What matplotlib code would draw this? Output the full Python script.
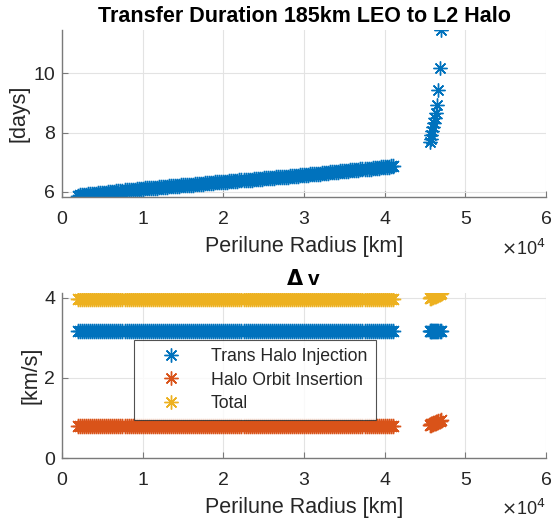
import matplotlib
matplotlib.use("Agg")
import matplotlib.pyplot as plt

plt.rcParams['font.family'] = ['Liberation Sans', 'DejaVu Sans']

# ---------------- data ----------------
radius_main = [
    2000, 2250, 2500, 2750, 3000, 3250, 3500, 3750, 4000, 4250,
    4500, 4750, 5000, 5250, 5500, 5750, 6000, 6250, 6500, 6750,
    7000, 7250, 7500, 7750, 8000, 8250, 8500, 8750, 9000, 9250,
    9500, 9750, 10000, 10250, 10500, 10750, 11000, 11250, 11500, 11750,
    12000, 12250, 12500, 12750, 13000, 13250, 13500, 13750, 14000, 14250,
    14500, 14750, 15000, 15250, 15500, 15750, 16000, 16250, 16500, 16750,
    17000, 17250, 17500, 17750, 18000, 18250, 18500, 18750, 19000, 19250,
    19500, 19750, 20000, 20250, 20500, 20750, 21000, 21250, 21500, 21750,
    22000, 22250, 22500, 22750, 23000, 23250, 23500, 23750, 24000, 24250,
    24500, 24750, 25000, 25250, 25500, 25750, 26000, 26250, 26500, 26750,
    27000, 27250, 27500, 27750, 28000, 28250, 28500, 28750, 29000, 29250,
    29500, 29750, 30000, 30250, 30500, 30750, 31000, 31250, 31500, 31750,
    32000, 32250, 32500, 32750, 33000, 33250, 33500, 33750, 34000, 34250,
    34500, 34750, 35000, 35250, 35500, 35750, 36000, 36250, 36500, 36750,
    37000, 37250, 37500, 37750, 38000, 38250, 38500, 38750, 39000, 39250,
    39500, 39750, 40000, 40250, 40500, 40750, 41000]
days_main = [
    5.88, 5.89, 5.89, 5.90, 5.91, 5.92, 5.92, 5.93, 5.94, 5.94,
    5.95, 5.96, 5.97, 5.97, 5.98, 5.99, 5.99, 6.00, 6.01, 6.02,
    6.02, 6.03, 6.04, 6.05, 6.05, 6.06, 6.07, 6.07, 6.08, 6.09,
    6.10, 6.10, 6.11, 6.12, 6.12, 6.13, 6.13, 6.14, 6.14, 6.15,
    6.16, 6.16, 6.17, 6.17, 6.18, 6.19, 6.19, 6.20, 6.20, 6.21,
    6.21, 6.22, 6.23, 6.23, 6.24, 6.24, 6.25, 6.25, 6.26, 6.27,
    6.27, 6.28, 6.28, 6.29, 6.29, 6.30, 6.31, 6.31, 6.32, 6.32,
    6.33, 6.33, 6.34, 6.35, 6.35, 6.36, 6.36, 6.37, 6.37, 6.38,
    6.39, 6.39, 6.40, 6.40, 6.41, 6.42, 6.42, 6.43, 6.43, 6.44,
    6.44, 6.45, 6.46, 6.46, 6.47, 6.47, 6.48, 6.48, 6.49, 6.50,
    6.50, 6.51, 6.51, 6.52, 6.52, 6.53, 6.54, 6.54, 6.55, 6.55,
    6.56, 6.56, 6.57, 6.58, 6.58, 6.59, 6.60, 6.60, 6.61, 6.62,
    6.62, 6.63, 6.64, 6.64, 6.65, 6.66, 6.66, 6.67, 6.68, 6.68,
    6.69, 6.70, 6.71, 6.71, 6.72, 6.73, 6.73, 6.74, 6.75, 6.75,
    6.76, 6.77, 6.77, 6.78, 6.79, 6.79, 6.80, 6.81, 6.81, 6.82,
    6.83, 6.83, 6.84, 6.85, 6.85, 6.86, 6.87]
thi_main = [3.17] * len(radius_main)
hoi_main = [0.80] * len(radius_main)
total_main = [3.97] * len(radius_main)

radius_far = [45600, 45700, 45800, 45900, 46000, 46100, 46200, 46300, 46500, 46650, 46800, 46950]
days_far = [7.68, 7.80, 7.92, 8.05, 8.18, 8.32, 8.48, 8.65, 8.92, 9.43, 10.17, 11.46]
thi_far = [3.17, 3.17, 3.17, 3.17, 3.17, 3.17, 3.17, 3.17, 3.17, 3.17, 3.17, 3.17]
hoi_far = [0.82, 0.83, 0.84, 0.85, 0.86, 0.87, 0.88, 0.89, 0.90, 0.92, 0.93, 0.95]
total_far = [3.99, 4.00, 4.01, 4.02, 4.03, 4.04, 4.05, 4.06, 4.07, 4.09, 4.10, 4.12]

xticks = [0, 10000, 20000, 30000, 40000, 50000, 60000]
xticklabels = ['0', '1', '2', '3', '4', '5', '6']
yticks_top = [6, 8, 10]
yticks_bot = [0, 2, 4]
legend_labels = ['Trans Halo Injection', 'Halo Orbit Insertion', 'Total']

# ---------------- style ----------------
C_BLUE = '#0072BD'
C_ORANGE = '#D95319'
C_YELLOW = '#EDB120'
AX_COL = '#7a7a7a'
TXT_COL = '#262626'
MK = dict(linestyle='none', marker=(8, 2, 0), markersize=11, markeredgewidth=1.0)
MK_FAR = dict(linestyle='none', marker=(8, 2, 0), markersize=10, markeredgewidth=1.0)

fig = plt.figure(figsize=(5.54, 5.22), dpi=100)
ax1 = fig.add_axes([0.1119, 0.6226, 0.8737, 0.3199])
ax2 = fig.add_axes([0.1119, 0.1226, 0.8737, 0.3161])


def style(ax):
    for s in ['top', 'right']:
        ax.spines[s].set_visible(False)
    for s in ['left', 'bottom']:
        ax.spines[s].set_color(AX_COL)
        ax.spines[s].set_linewidth(1.0)
    ax.grid(True, color='#e3e3e3', linewidth=0.8)
    ax.set_axisbelow(True)
    ax.tick_params(direction='in', length=4, width=0.8, color=AX_COL,
                   labelcolor=TXT_COL, labelsize=14)
    ax.tick_params(axis='x', pad=10)
    ax.tick_params(axis='y', pad=5)
    ax.set_xlim(0, 60000)
    ax.set_xticks(xticks)
    ax.set_xticklabels(xticklabels)
    ax.set_xlabel('Perilune Radius [km]', fontsize=15.5, color=TXT_COL, labelpad=6)
    ax.text(1.0, -0.31, r'$\times$10$^{4}$', transform=ax.transAxes,
            ha='right', va='center', fontsize=13, color=TXT_COL)


# top panel
ax1.plot(radius_main, days_main, color=C_BLUE, **MK)
ax1.plot(radius_far, days_far, color=C_BLUE, **MK_FAR)
style(ax1)
ax1.set_ylim(5.83, 11.46)
ax1.set_yticks(yticks_top)
ax1.set_ylabel('[days]', fontsize=15.5, color=TXT_COL, labelpad=3)
ax1.set_title('Transfer Duration 185km LEO to L2 Halo', fontsize=15.5,
              fontweight='bold', pad=6)

# bottom panel
h1, = ax2.plot(radius_main, thi_main, color=C_BLUE, **MK)
ax2.plot(radius_far, thi_far, color=C_BLUE, **MK)
h2, = ax2.plot(radius_main, hoi_main, color=C_ORANGE, **MK)
ax2.plot(radius_far, hoi_far, color=C_ORANGE, **MK)
h3, = ax2.plot(radius_main, total_main, color=C_YELLOW, **MK)
ax2.plot(radius_far, total_far, color=C_YELLOW, **MK)
style(ax2)
ax2.set_ylim(0, 4.12)
ax2.set_yticks(yticks_bot)
ax2.set_ylabel('[km/s]', fontsize=15.5, color=TXT_COL, labelpad=2)
ax2.set_title(r'$\mathbf{\Delta}$ v', fontsize=15, fontweight='bold', pad=6)

leg = ax2.legend([h1, h2, h3], legend_labels, loc='lower left',
                 bbox_to_anchor=(0.149, 0.23, 0.50, 0.46), mode='expand',
                 fontsize=12.7, frameon=True, fancybox=False,
                 handlelength=3.3, handletextpad=0.6, borderpad=0.45,
                 labelspacing=0.37, borderaxespad=0)
leg.get_frame().set_edgecolor('#262626')
leg.get_frame().set_linewidth(0.8)
for h in leg.legend_handles:
    h.set_markersize(10)
    h.set_markeredgewidth(1.0)
for t in leg.get_texts():
    t.set_color(TXT_COL)

fig.savefig('out.png', dpi=100)
